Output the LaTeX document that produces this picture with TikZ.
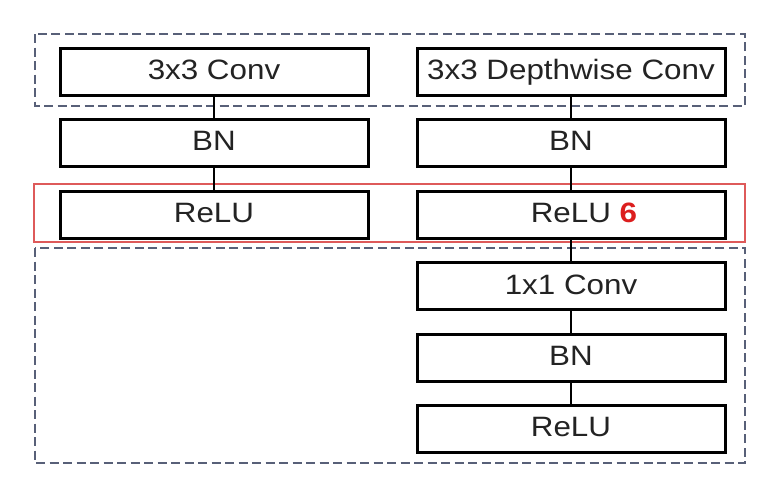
\documentclass[tikz,border=0pt]{standalone}
\usepackage{fontspec}
\setmainfont{Liberation Sans}[FakeStretch=1.12]
\begin{document}
\begin{tikzpicture}[x=1pt,y=-1pt,
  blk/.style={draw=black,line width=3pt,fill=white,minimum width=308pt,minimum height=47pt,
    inner sep=0pt,text=txtgray,font=\fontsize{28pt}{30pt}\selectfont,text height=20pt,text depth=4pt},
  link/.style={draw=black,line width=2.5pt},
  grp/.style={draw=dashcol,line width=2pt,dash pattern=on 9pt off 4.5pt},
  hl/.style={draw=hlred,line width=1.5pt}]
\definecolor{dashcol}{RGB}{88,96,120}
\definecolor{hlred}{RGB}{222,90,90}
\definecolor{sixred}{RGB}{220,30,30}
\definecolor{txtgray}{RGB}{35,35,35}
\useasboundingbox[fill=white] (0,0) rectangle (766,480);
% group frames
\draw[grp] (35,34) rectangle (745,106);
\draw[grp] (35,248) rectangle (745,463);
\draw[hl] (34,184) rectangle (745,242);
% left column
\node[blk] (l1) at (214,71.5) {3x3 Conv};
\node[blk] (l2) at (214,142.5) {BN};
\node[blk] (l3) at (214,214.5) {ReLU};
% right column
\node[blk] (r1) at (571,71.5) {3x3 Depthwise Conv};
\node[blk] (r2) at (571,142.5) {BN};
\node[blk] (r3) at (571,214.5) {\hspace*{26pt}ReLU \textcolor{sixred}{\textbf{6}}};
\node[blk] (r4) at (571,286) {1x1 Conv};
\node[blk] (r5) at (571,357.5) {BN};
\node[blk] (r6) at (571,428.5) {ReLU};
% connectors
\draw[link] (l1) -- (l2);
\draw[link] (l2) -- (l3);
\draw[link] (r1) -- (r2);
\draw[link] (r2) -- (r3);
\draw[link] (r3) -- (r4);
\draw[link] (r4) -- (r5);
\draw[link] (r5) -- (r6);
\end{tikzpicture}
\end{document}
